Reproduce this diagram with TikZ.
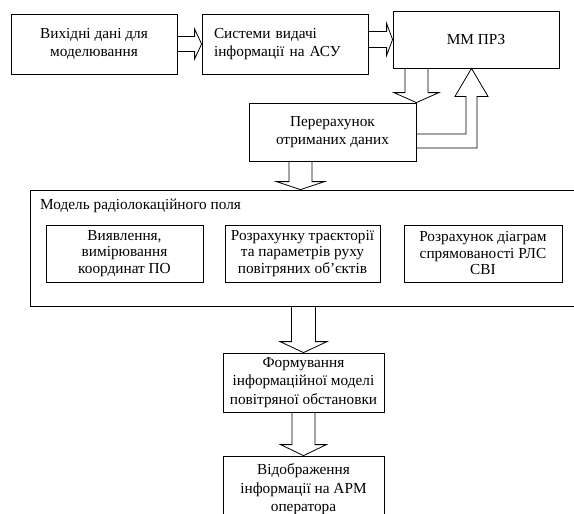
\documentclass[tikz,border=0pt]{standalone}
\usepackage{fontspec}
\setmainfont{Liberation Serif}
\newfontfamily\tnr{Liberation Serif}
\usetikzlibrary{calc}
\newcommand\downblk[5]{\draw[blk] ($(#1)+(-#3,0)$) -- ($(#2)+(-#3,-#5)$) -- ($(#2)+(-#4,-#5)$) -- (#2) -- ($(#2)+(#4,-#5)$) -- ($(#2)+(#3,-#5)$) -- ($(#1)+(#3,0)$);}
\newcommand\rightblk[5]{\draw[blk] ($(#1)+(0,-#3)$) -- ($(#2)+(-#5,-#3)$) -- ($(#2)+(-#5,-#4)$) -- (#2) -- ($(#2)+(-#5,#4)$) -- ($(#2)+(-#5,#3)$) -- ($(#1)+(0,#3)$);}
\begin{document}
\begin{tikzpicture}[x=1pt,y=-1pt,
  txt/.style={font=\tnr\fontsize{15.3}{17.5}\selectfont},
  box/.style={txt, draw, line width=0.8pt, rectangle, inner sep=0pt, align=center},
  tight/.style={font=\tnr\fontsize{15.3}{16.5}\selectfont},
  loose/.style={font=\tnr\fontsize{15.3}{18.5}\selectfont},
  blk/.style={draw, line width=0.8pt, line join=miter}]
\useasboundingbox (0,0) rectangle (574,514);
\clip (0,0) rectangle (574,514);
\fill[white] (0,0) rectangle (574,514);

% top row
\node[box, minimum width=166pt, minimum height=60pt] (b1) at (94,44) {Вихідні дані для\\моделювання};
\node[box, text width=142pt, inner xsep=12pt, align=left, minimum height=60pt] (b2) at (285,44) {Системи видачі\\інформації на АСУ};
\node[box, minimum width=166pt, minimum height=57pt] (b3) at (476,39.5) {ММ ПРЗ};
\node[box, minimum width=167pt, minimum height=58pt] (b4) at (332.5,132) {Перерахунок\\отриманих даних};

% model of radar field
\node[draw, line width=0.8pt, rectangle, minimum width=590pt, minimum height=116pt] (model) at (325,248) {};
\node[txt, anchor=west, inner sep=0pt] (mtitle) at (40,206) {Модель радіолокаційного поля};
\node[box, tight, minimum width=157pt, minimum height=57pt] (i1) at (124.5,253.5) {Виявлення,\\вимірювання\\координат ПО};
\node[box, tight, minimum width=155pt, minimum height=57pt] (i2) at (302.5,253.5) {Розрахунку траєкторії\\та параметрів руху\\повітряних об’єктів};
\node[box, tight, minimum width=158pt, minimum height=57pt] (i3) at (483,253.5) {Розрахунок діаграм\\спрямованості РЛС\\СВІ};

% lower chain
\node[box, loose, minimum width=161pt, minimum height=59pt] (f) at (303.5,382.5) {Формування\\інформаційної моделі\\повітряної обстановки};
\node[box, loose, minimum width=161pt, minimum height=67pt] (v) at (303.5,489.5) {Відображення\\інформації на АРМ\\оператора};

% block arrows
\rightblk{b1.east}{b2.west}{7.5}{15}{7}
\coordinate (a2s) at (b2.east |- b3.west);
\rightblk{a2s}{b3.west}{8}{16}{6}
\coordinate (a3s) at (b4.north east |- b3.south);
\downblk{a3s}{b4.north east}{11.5}{22.5}{10}

\coordinate (a4t) at ($(b3.south)+(-4.5,0)$);
\coordinate (a4i) at ($(b4.east)+(0,2)$);
\coordinate (a4o) at ($(b4.east)+(0,16)$);
\coordinate (a4l) at ($(a4t)+(-5.5,28)$);
\coordinate (a4r) at ($(a4t)+(5.5,28)$);
\draw[blk] (a4i) -- (a4i -| a4l) -- (a4l) -- ($(a4t)+(-16.5,28)$) -- (a4t) -- ($(a4t)+(16.5,28)$) -- (a4r) -- (a4o -| a4r) -- (a4o);

\coordinate (a5s) at ($(b4.south)+(-32,0)$);
\coordinate (a5t) at (a5s |- model.north);
\downblk{a5s}{a5t}{11.5}{24}{8}
\coordinate (a6s) at (f.north |- model.south);
\downblk{a6s}{f.north}{12}{23.5}{11}
\downblk{f.south}{v.north}{11.5}{23}{11}
\end{tikzpicture}
\end{document}
